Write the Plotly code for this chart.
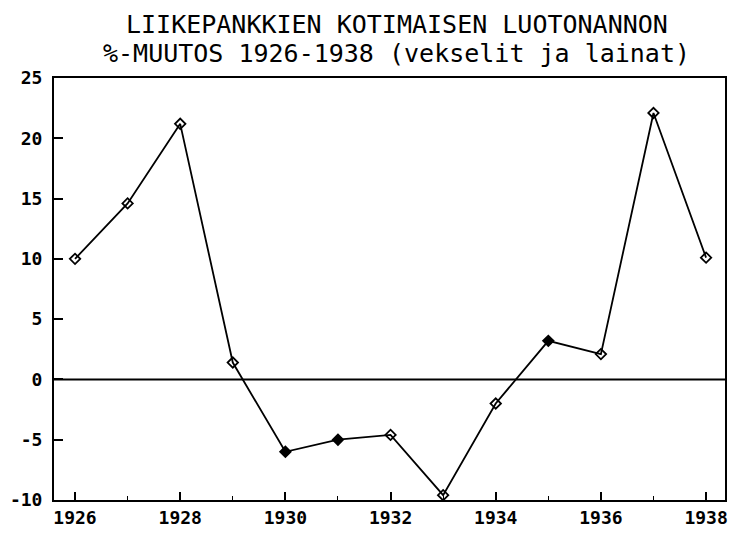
import plotly.graph_objects as go

# Data
years = [1926, 1927, 1928, 1929, 1930, 1931, 1932, 1933, 1934, 1935, 1936, 1937, 1938]
change_pct = [10.0, 14.6, 21.2, 1.4, -6.0, -5.0, -4.6, -9.6, -2.0, 3.2, 2.1, 22.1, 10.1]
y_ticks = [25, 20, 15, 10, 5, 0, -5, -10]
x_ticks = [1926, 1928, 1930, 1932, 1934, 1936, 1938]
title_lines = ["LIIKEPANKKIEN KOTIMAISEN LUOTONANNON",
               "%-MUUTOS 1926-1938 (vekselit ja lainat)"]

# some markers print filled in the original
filled_years = [1930, 1931, 1935]
symbols = ['diamond' if yr in filled_years else 'diamond-open' for yr in years]

mono = "DejaVu Sans Mono"

fig = go.Figure()

fig.add_trace(go.Scatter(x=years,
                         y=change_pct,
                         mode='lines+markers',
                         line=dict(color='black', width=1.8),
                         marker=dict(symbol=symbols, size=8, color='black',
                                     line=dict(color='black', width=1.8)),
                         showlegend=False))

# zero line
fig.add_hline(y=0, line=dict(color='black', width=2))

# two-line title as annotations
for line_text, ypos in zip(title_lines, [1.127, 1.057]):
    fig.add_annotation(text=line_text,
                       xref='paper', yref='paper',
                       x=0.511, y=ypos,
                       xanchor='center', yanchor='middle',
                       showarrow=False,
                       font=dict(family=mono, size=25, color='black'))

# page body adds 8px offset, margins compensate for it
fig.update_layout(width=746,
                  height=535,
                  margin=dict(l=46, r=29, t=70, b=43),
                  paper_bgcolor='white',
                  plot_bgcolor='white')

fig.update_xaxes(range=[1925.6, 1938.36],
                 tickvals=x_ticks,
                 ticktext=[str(v) for v in x_ticks],
                 ticks='inside',
                 ticklen=8,
                 tickwidth=1.5,
                 tickcolor='black',
                 minor=dict(dtick=1, ticks='inside', ticklen=4, tickcolor='black', tickwidth=1),
                 showgrid=False,
                 zeroline=False,
                 showline=True,
                 linecolor='black',
                 linewidth=2,
                 mirror=True,
                 automargin=False,
                 tickfont=dict(family=mono, size=18, color='black', weight='bold'))

fig.update_yaxes(range=[-10, 25],
                 tickvals=y_ticks,
                 ticktext=[str(v) for v in y_ticks],
                 ticks='inside',
                 ticklen=9,
                 tickwidth=1.5,
                 tickcolor='black',
                 showgrid=False,
                 zeroline=False,
                 showline=True,
                 linecolor='black',
                 linewidth=2,
                 mirror=True,
                 automargin=False,
                 ticklabelstandoff=6,
                 tickfont=dict(family=mono, size=18, color='black', weight='bold'))

fig.write_html("out.html")
